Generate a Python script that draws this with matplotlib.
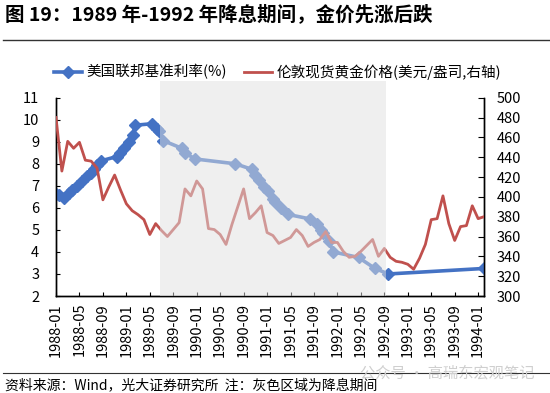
import matplotlib
matplotlib.use("Agg")
import matplotlib.pyplot as plt
from matplotlib.lines import Line2D

plt.rcParams['font.family'] = ['Noto Sans CJK SC', 'DejaVu Sans']

# x tick labels, one every 4 months (month index 0 = 1988-01)
tick_pos = [0, 4, 8, 12, 16, 20, 24, 28, 32, 36, 40, 44, 48, 52, 56, 60, 64, 68, 72]
tick_labels = ['1988-01', '1988-05', '1988-09', '1989-01', '1989-05', '1989-09',
               '1990-01', '1990-05', '1990-09', '1991-01', '1991-05', '1991-09',
               '1992-01', '1992-05', '1992-09', '1993-01', '1993-05', '1993-09',
               '1994-01']

# fed funds rate (%) at change dates, x in months since 1988-01
fed_x = [0.0, 0.5, 1.3, 2.2, 2.8, 3.5, 4.4, 5.3, 5.9, 6.4, 7.0, 7.6, 10.4, 11.0,
         11.6, 12.4, 13.1, 13.5, 16.4, 17.2, 17.6, 18.3, 21.5, 22.0, 23.7, 30.6,
         33.4, 34.0, 34.6, 35.4, 36.2, 37.0, 37.4, 38.4, 39.6, 43.3, 44.6, 45.2,
         45.6, 46.5, 47.3, 51.6, 54.4, 56.7, 73.0]
fed_rate = [6.63, 6.6, 6.45, 6.68, 6.8, 7.0, 7.24, 7.45, 7.6, 7.76, 7.95, 8.13,
            8.33, 8.5, 8.7, 9.0, 9.3, 9.75, 9.82, 9.6, 9.5, 9.05, 8.7, 8.5, 8.22,
            8.0, 7.75, 7.5, 7.25, 6.95, 6.75, 6.4, 6.25, 6.0, 5.7, 5.5, 5.25, 5.0,
            4.85, 4.5, 4.0, 3.75, 3.25, 3.0, 3.25]

# london spot gold, monthly 1988-01 .. 1994-02 (USD/oz)
gold = [480, 426, 456, 449, 455, 437, 436, 429, 397, 410, 422, 407, 393, 386,
        382, 377, 362, 373, 366, 360, 367, 374, 408, 401, 416, 408, 368, 367,
        362, 352, 372, 390, 408, 378, 384, 391, 364, 361, 353, 356, 359, 367,
        361, 350, 354, 357, 365, 354, 354, 345, 339, 340, 345, 351, 357, 340,
        348, 339, 335, 334, 332, 327, 338, 352, 377, 378, 401, 373, 356, 370,
        371, 391, 378, 380]

cut_start, cut_end = 17.7, 56.2

blue = '#4472C4'
red = '#C0504D'

fig = plt.figure(figsize=(5.5, 3.93), dpi=100)
ax = fig.add_axes([56/550, 1-296/393, 428/550, 198.3/393])
ax2 = ax.twinx()

ax.plot(fed_x, fed_rate, color=blue, lw=2.6, marker='D', ms=6.5, zorder=3)
ax2.plot(range(len(gold)), gold, color=red, lw=2.0, zorder=3)

# shaded rate-cut period drawn on top, semi transparent
ax2.axvspan(cut_start, cut_end, ymin=0, ymax=1.083, color='#E1E1E1', alpha=0.5,
            lw=0, zorder=5, clip_on=False)

ax.set_xlim(0, 73)
ax.set_ylim(2, 11)
ax.set_yticks(range(2, 12))
ax2.set_ylim(300, 500)
ax2.set_yticks(range(300, 501, 20))
ax.set_xticks(tick_pos)
ax.set_xticklabels(tick_labels, rotation=90)

for a in (ax, ax2):
    a.spines['top'].set_visible(False)
    for s in a.spines.values():
        s.set_color('#000000')
        s.set_linewidth(1.0)
ax.tick_params(axis='y', direction='in', length=3, pad=12, labelsize=10.5)
ax.tick_params(axis='x', direction='in', length=3, pad=5, labelsize=10.5)
ax2.tick_params(axis='y', direction='in', length=4, pad=9, labelsize=10.5)

handles = [Line2D([], [], color=blue, lw=2.6, marker='D', ms=6),
           Line2D([], [], color=red, lw=2.0)]
labels = ['美国联邦基准利率(%)', '伦敦现货黄金价格(美元/盎司,右轴)']
leg = fig.legend(handles, labels, loc='center', bbox_to_anchor=(0.505, 0.817),
                 ncol=2, frameon=False, fontsize=10.5, handlelength=1.9,
                 columnspacing=1.2, handletextpad=0.3)

fig.text(0.009, 0.964, '图 19：1989 年-1992 年降息期间，金价先涨后跌',
         fontsize=14, fontweight='bold', va='center', ha='left')
fig.add_artist(Line2D([0.005, 1.0], [0.899, 0.899], color='#333333', lw=1.0))
fig.add_artist(Line2D([0.005, 1.0], [0.051, 0.051], color='#333333', lw=0.8))
fig.text(0.655, 0.05, '公众号 · 高瑞东宏观笔记', fontsize=11, color='#CFCFCF',
         va='center', ha='left')
fig.text(0.009, 0.02, '资料来源：Wind，光大证券研究所  注：灰色区域为降息期间',
         fontsize=10, va='center', ha='left')

fig.savefig('out.png', dpi=100)
